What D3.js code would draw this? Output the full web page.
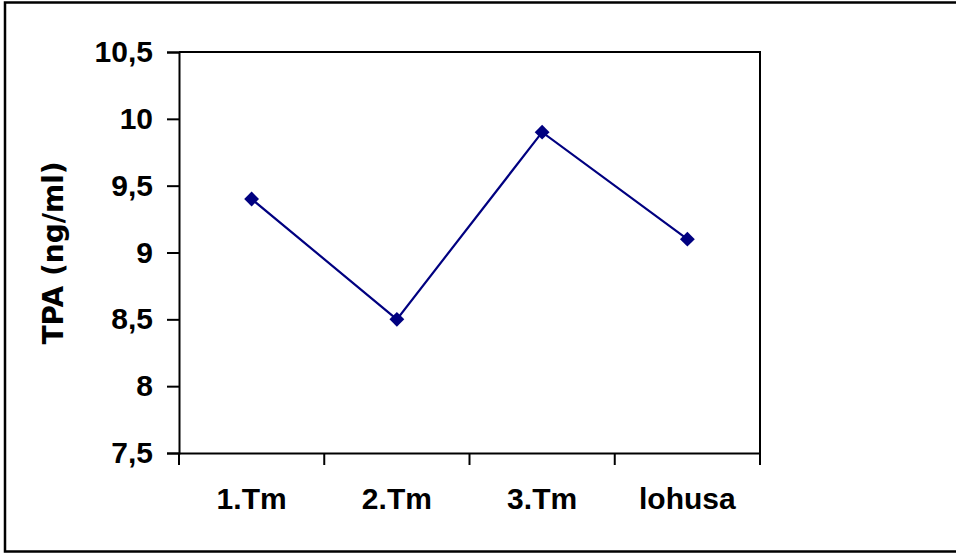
<!DOCTYPE html>
<html><head><meta charset="utf-8">
<script src="https://cdn.jsdelivr.net/npm/d3@7"></script>
<style>html,body{margin:0;padding:0;background:#fff;}</style>
</head><body>
<script>
const categories = ["1.Tm", "2.Tm", "3.Tm", "lohusa"];
const values = [9.4, 8.5, 9.9, 9.1];
const yTicks = [7.5, 8, 8.5, 9, 9.5, 10, 10.5];
const yLabel = "TPA (ng/ml)";

(function () {
const W = 956, H = 554;
const pL = 179, pR = 760, pT = 52, pB = 453;
const font = "'Liberation Sans', Arial, sans-serif";

const svg = d3.select("body").append("svg").attr("width", W).attr("height", H).style("display", "block");
svg.append("rect").attr("x", 5).attr("y", 2.5).attr("width", 970).attr("height", 549)
  .attr("fill", "#fff").attr("stroke", "#000").attr("stroke-width", 2.5);

const x = d3.scaleBand().domain(categories).range([pL, pR]).padding(0);
const y = d3.scaleLinear().domain([7.5, 10.5]).range([pB, pT]);

svg.append("path").attr("d", `M${pL},${pT}H${pR}V${pB}`)
  .attr("fill", "none").attr("stroke", "#000").attr("stroke-width", 2);

const yAxis = svg.append("g").attr("transform", `translate(${pL},0)`)
  .call(d3.axisLeft(y).tickValues(yTicks).tickSize(12).tickPadding(14)
    .tickFormat(d => String(d).replace(".", ",")));
yAxis.select(".domain").attr("stroke-width", 2);
yAxis.selectAll("line").attr("stroke-width", 2);
yAxis.selectAll("text").attr("font-family", font).attr("font-weight", "bold")
  .attr("font-size", 30).attr("fill", "#000");

const xAxis = svg.append("g").attr("transform", `translate(0,${pB})`)
  .call(d3.axisBottom(x).tickSize(0).tickPadding(35));
xAxis.select(".domain").attr("stroke-width", 2);
xAxis.selectAll("text").attr("font-family", font).attr("font-weight", "bold")
  .attr("font-size", 30).attr("fill", "#000");
const bounds = categories.map(c => x(c)).concat([x.range()[1]]);
xAxis.selectAll(".btick").data(bounds).enter().append("line")
  .attr("x1", d => d).attr("x2", d => d).attr("y1", 0).attr("y2", 12)
  .attr("stroke", "#000").attr("stroke-width", 2);

svg.append("text").attr("transform", `translate(63,253) rotate(-90)`)
  .attr("text-anchor", "middle").attr("font-family", "'DejaVu Sans', Verdana, sans-serif").attr("font-weight", "bold")
  .attr("font-size", 28).text(yLabel);

const cx = c => x(c) + x.bandwidth() / 2;
const line = d3.line().x((d, i) => cx(categories[i])).y(d => y(d));
svg.append("path").datum(values).attr("d", line).attr("fill", "none")
  .attr("stroke", "#000080").attr("stroke-width", 2.2);

svg.selectAll(".pt").data(values).enter().append("path")
  .attr("transform", (d, i) => `translate(${cx(categories[i])},${y(d)}) rotate(45)`)
  .attr("d", d3.symbol().type(d3.symbolSquare).size(110))
  .attr("fill", "#000080");
})();
</script>
</body></html>
